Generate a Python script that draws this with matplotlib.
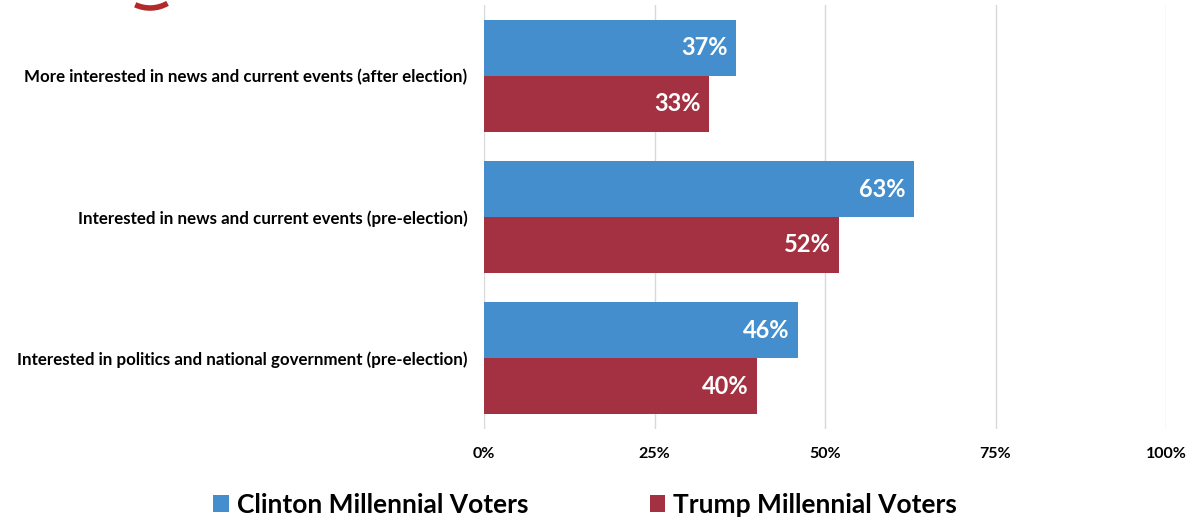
import numpy as np
import matplotlib.pyplot as plt
from matplotlib.patches import Arc, Patch

# ---- data ----
categories = [
    "More interested in news and current events (after election)",
    "Interested in news and current events (pre-election)",
    "Interested in politics and national government (pre-election)",
]
clinton = [37, 63, 46]
trump = [33, 52, 40]
series_names = ["Clinton Millennial Voters", "Trump Millennial Voters"]
x_ticks = [0, 25, 50, 75, 100]

BLUE = "#448ECE"
RED = "#A33141"

plt.rcParams["font.family"] = ["Lato", "DejaVu Sans"]
plt.rcParams["font.weight"] = "bold"

fig = plt.figure(figsize=(11.96, 5.22), dpi=100)
ax = fig.add_axes([484 / 1196, 93 / 522, 682 / 1196, 424 / 522])

y = np.arange(len(categories))
h = 0.396

bars_c = ax.barh(y - h / 2, clinton, height=h, color=BLUE, zorder=3)
bars_t = ax.barh(y + h / 2, trump, height=h, color=RED, zorder=3)

for bars, vals in ((bars_c, clinton), (bars_t, trump)):
    for b, v in zip(bars, vals):
        ax.text(v - 1.2, b.get_y() + b.get_height() / 2, f"{v}%",
                ha="right", va="center", color="white",
                fontsize=17, fontweight="bold", zorder=4)

ax.set_xlim(0, 100)
ax.set_ylim(2.5, -0.5)
ax.set_xticks(x_ticks)
ax.set_xticklabels([f"{t}%" for t in x_ticks], fontsize=11.5, fontweight="bold")
ax.set_yticks(y)
ax.set_yticklabels(categories, fontsize=12.2, fontweight="bold")
ax.tick_params(length=0)
ax.tick_params(axis="x", pad=13)
ax.tick_params(axis="y", pad=12)
ax.grid(axis="x", color="#D9D9D9", linewidth=1, zorder=0)
for s in ax.spines.values():
    s.set_visible(False)

# legend below the axis
handles = [Patch(facecolor=BLUE), Patch(facecolor=RED)]
fig.legend(handles, series_names, loc="center", bbox_to_anchor=(585 / 1196, 1 - 505 / 522),
           ncol=2, frameon=False, handlelength=0.6, handleheight=0.6,
           handletextpad=0.3, columnspacing=4.6,
           prop={"size": 19, "weight": "bold"})

# bit of a logo poking in at the top left
fig.add_artist(Arc((1.50, 5.49), 0.7, 0.7, theta1=245, theta2=300,
                   transform=fig.dpi_scale_trans, color="#B22A2A", lw=4))

fig.savefig("out.png", dpi=100)
